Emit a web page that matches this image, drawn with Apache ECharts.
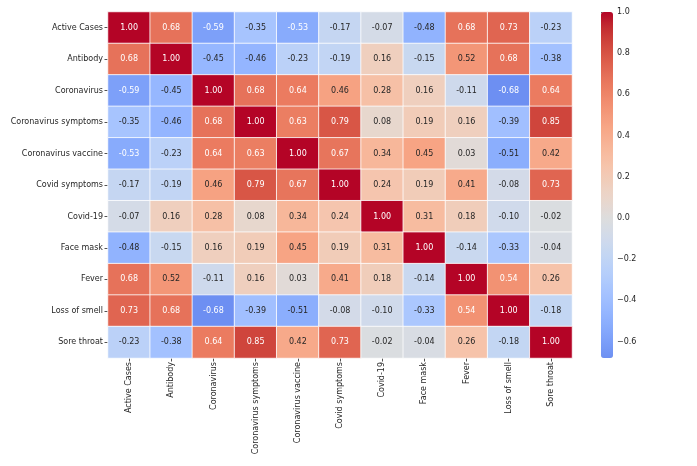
<!DOCTYPE html>
<html>
<head>
<meta charset="utf-8">
<script src="https://cdn.jsdelivr.net/npm/echarts@6/dist/echarts.min.js"></script>
<style>
html,body{margin:0;padding:0;background:#fff;}
#chart{width:697px;height:466px;}
</style>
</head>
<body>
<div id="chart"></div>
<script>
var categories = ["Active Cases","Antibody","Coronavirus","Coronavirus symptoms","Coronavirus vaccine","Covid symptoms","Covid-19","Face mask","Fever","Loss of smell","Sore throat"];
var rowActiveCases = [1.00, 0.68, -0.59, -0.35, -0.53, -0.17, -0.07, -0.48, 0.68, 0.73, -0.23];
var rowAntibody = [0.68, 1.00, -0.45, -0.46, -0.23, -0.19, 0.16, -0.15, 0.52, 0.68, -0.38];
var rowCoronavirus = [-0.59, -0.45, 1.00, 0.68, 0.64, 0.46, 0.28, 0.16, -0.11, -0.68, 0.64];
var rowCoronavirusSymptoms = [-0.35, -0.46, 0.68, 1.00, 0.63, 0.79, 0.08, 0.19, 0.16, -0.39, 0.85];
var rowCoronavirusVaccine = [-0.53, -0.23, 0.64, 0.63, 1.00, 0.67, 0.34, 0.45, 0.03, -0.51, 0.42];
var rowCovidSymptoms = [-0.17, -0.19, 0.46, 0.79, 0.67, 1.00, 0.24, 0.19, 0.41, -0.08, 0.73];
var rowCovid19 = [-0.07, 0.16, 0.28, 0.08, 0.34, 0.24, 1.00, 0.31, 0.18, -0.10, -0.02];
var rowFaceMask = [-0.48, -0.15, 0.16, 0.19, 0.45, 0.19, 0.31, 1.00, -0.14, -0.33, -0.04];
var rowFever = [0.68, 0.52, -0.11, 0.16, 0.03, 0.41, 0.18, -0.14, 1.00, 0.54, 0.26];
var rowLossOfSmell = [0.73, 0.68, -0.68, -0.39, -0.51, -0.08, -0.10, -0.33, 0.54, 1.00, -0.18];
var rowSoreThroat = [-0.23, -0.38, 0.64, 0.85, 0.42, 0.73, -0.02, -0.04, 0.26, -0.18, 1.00];
var colorbarTicks = [-0.6, -0.4, -0.2, 0.0, 0.2, 0.4, 0.6, 0.8, 1.0];
var valueMin = -0.68, valueMax = 1.0;

var matrix = [rowActiveCases,rowAntibody,rowCoronavirus,rowCoronavirusSymptoms,rowCoronavirusVaccine,rowCovidSymptoms,rowCovid19,rowFaceMask,rowFever,rowLossOfSmell,rowSoreThroat];

// matplotlib "coolwarm" colormap, 33 evenly spaced stops
var coolwarmTable = [[59,76,192],[68,90,204],[77,104,215],[87,117,225],[98,130,234],[108,142,241],[119,154,247],[130,165,251],[141,176,254],[152,185,255],[163,194,255],[174,201,253],[184,208,249],[194,213,244],[204,217,238],[213,219,230],[221,221,221],[229,216,209],[236,211,197],[241,204,184],[245,196,172],[247,187,159],[247,177,147],[247,166,134],[244,154,123],[241,141,111],[236,127,99],[229,112,89],[222,96,77],[213,80,66],[203,62,56],[192,40,47],[180,4,38]];
function coolwarmAt(t) {
  t = Math.max(0, Math.min(1, t));
  var f = t * (coolwarmTable.length - 1);
  var i = Math.floor(f); if (i >= coolwarmTable.length - 1) i = coolwarmTable.length - 2;
  var u = f - i, a = coolwarmTable[i], b = coolwarmTable[i + 1];
  return 'rgb(' + [0,1,2].map(function (k) { return Math.round(a[k] + (b[k] - a[k]) * u); }).join(',') + ')';
}
// centered at 0: symmetric range [-1, 1], only [valueMin, valueMax] used
var colorStops = [];
var nStops = 60;
for (var s = 0; s <= nStops; s++) {
  var val = valueMin + (valueMax - valueMin) * s / nStops;
  colorStops.push(coolwarmAt((val + 1) / 2));
}

var data = [];
for (var r = 0; r < matrix.length; r++) {
  for (var c = 0; c < matrix[r].length; c++) {
    var v = matrix[r][c];
    var dark = (v >= 0.535 || v <= -0.525);
    data.push({value: [c, r, v], label: {color: dark ? '#ffffff' : '#262626'}});
  }
}

var chart = echarts.init(document.getElementById('chart'), null, {renderer: 'canvas'});
chart.setOption({
  animation: false,
  backgroundColor: '#fff',
  textStyle: {fontFamily: 'DejaVu Sans'},
  grid: [
    {left: 108, right: 125, top: 12, bottom: 108},
    {left: 601, width: 12, top: 12, height: 346}
  ],
  xAxis: [
    {type: 'category', data: categories, gridIndex: 0, position: 'bottom',
     axisLine: {show: false}, splitLine: {show: false}, splitArea: {show: false},
     axisTick: {show: true, alignWithLabel: true, length: 3.5, lineStyle: {color: '#262626', width: 0.8}},
     axisLabel: {rotate: 90, fontSize: 8, color: '#262626', margin: 4, fontFamily: 'DejaVu Sans', interval: 0}},
    {type: 'value', gridIndex: 1, show: false, min: 0, max: 1}
  ],
  yAxis: [
    {type: 'category', data: categories, gridIndex: 0, inverse: true,
     axisLine: {show: false}, splitLine: {show: false}, splitArea: {show: false},
     axisTick: {show: true, alignWithLabel: true, length: 3.5, lineStyle: {color: '#262626', width: 0.8}},
     axisLabel: {fontSize: 8, color: '#262626', margin: 5, fontFamily: 'DejaVu Sans', interval: 0}},
    {type: 'value', gridIndex: 1, position: 'right', min: valueMin, max: valueMax,
     axisLine: {show: false}, splitLine: {show: false},
     axisTick: {show: true, length: 3.5, customValues: colorbarTicks, lineStyle: {color: '#262626', width: 0.8}},
     axisLabel: {fontSize: 8, color: '#262626', margin: 4, fontFamily: 'DejaVu Sans', customValues: colorbarTicks,
       formatter: function (v) { return (Math.abs(v) < 1e-9 ? 0 : v).toFixed(1).replace('-', '\u2212'); }}}
  ],
  visualMap: {
    type: 'continuous', min: valueMin, max: valueMax, calculable: false, show: true,
    orient: 'vertical', left: 601, top: 12, itemWidth: 12, itemHeight: 346, padding: 0,
    text: null, showLabel: false, seriesIndex: 0,
    inRange: {color: colorStops}
  },
  series: [{
    type: 'heatmap', xAxisIndex: 0, yAxisIndex: 0, data: data,
    itemStyle: {borderColor: '#ffffff', borderWidth: 0.8},
    label: {show: true, fontSize: 8, fontFamily: 'DejaVu Sans',
      formatter: function (p) { return p.value[2].toFixed(2); }},
    emphasis: {disabled: true}
  }]
});
</script>
</body>
</html>
